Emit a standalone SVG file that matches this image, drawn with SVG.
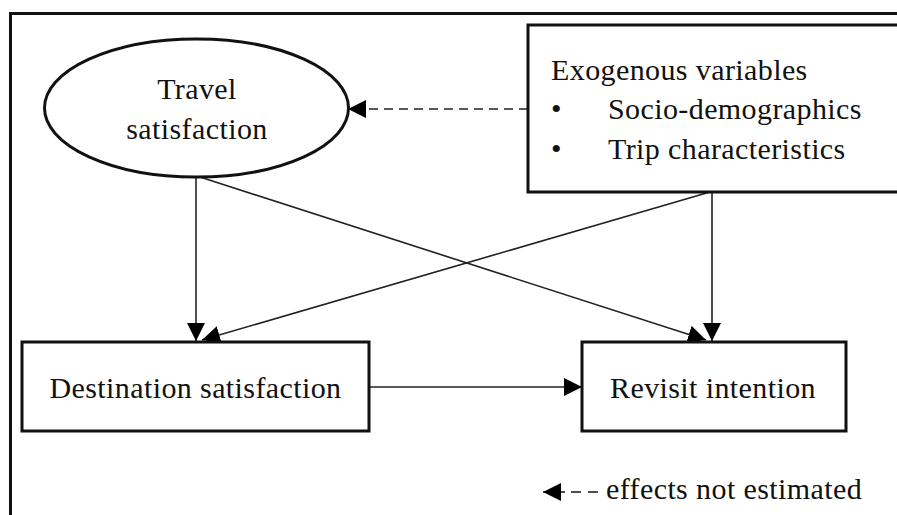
<svg xmlns="http://www.w3.org/2000/svg" width="897" height="515" viewBox="0 0 897 515">
<style>
.t{font-family:"Liberation Serif","Times New Roman",serif;font-size:30px;fill:#111;letter-spacing:0.4px}
.box{fill:#fff;stroke:#111;stroke-width:3}
.ln{stroke:#222;stroke-width:1.6;fill:none}
.dash{stroke:#222;stroke-width:1.6;fill:none;stroke-dasharray:9 6}
</style>
<defs>
<marker id="ah" viewBox="0 0 18 18" refX="18" refY="9" markerWidth="18" markerHeight="18" markerUnits="userSpaceOnUse" orient="auto">
<path d="M0,0 L18,9 L0,18 Z" fill="#000"/>
</marker>
</defs>
<rect x="0" y="0" width="897" height="515" fill="#fff"/>
<rect id="frame" x="10.5" y="13.5" width="900" height="520" fill="none" stroke="#111" stroke-width="3"/>
<g id="connectors">
<line class="dash" x1="528" y1="109" x2="348" y2="109" marker-end="url(#ah)"/>
<line class="ln" x1="196" y1="177" x2="196" y2="341" marker-end="url(#ah)"/>
<line class="ln" x1="200" y1="177" x2="706" y2="340" marker-end="url(#ah)"/>
<line class="ln" x1="712" y1="192" x2="712" y2="341" marker-end="url(#ah)"/>
<line class="ln" x1="710" y1="192" x2="202" y2="340" marker-end="url(#ah)"/>
<line class="ln" x1="369" y1="387" x2="582" y2="387" marker-end="url(#ah)"/>
</g>
<g id="travel">
<ellipse class="box" cx="196.5" cy="108" rx="152" ry="69"/>
<text class="t" x="197" y="99" text-anchor="middle">Travel</text>
<text class="t" x="197" y="139" text-anchor="middle">satisfaction</text>
</g>
<g id="exogenous">
<rect class="box" x="528" y="25" width="400" height="167"/>
<text class="t" x="551" y="80">Exogenous variables</text>
<text class="t" x="551" y="119">•</text>
<text class="t" x="608" y="119">Socio-demographics</text>
<text class="t" x="551" y="159">•</text>
<text class="t" x="608" y="159">Trip characteristics</text>
</g>
<g id="destination">
<rect class="box" x="22" y="342" width="347" height="89"/>
<text class="t" x="195.5" y="398" text-anchor="middle">Destination satisfaction</text>
</g>
<g id="revisit">
<rect class="box" x="582" y="342" width="264" height="89"/>
<text class="t" x="713" y="398" text-anchor="middle">Revisit intention</text>
</g>
<g id="legend">
<line class="ln" x1="565" y1="492" x2="543" y2="492" marker-end="url(#ah)"/>
<line class="ln" x1="571" y1="492" x2="581" y2="492"/>
<line class="ln" x1="588" y1="492" x2="598" y2="492"/>
<text class="t" x="606" y="499">effects not estimated</text>
</g>
</svg>
